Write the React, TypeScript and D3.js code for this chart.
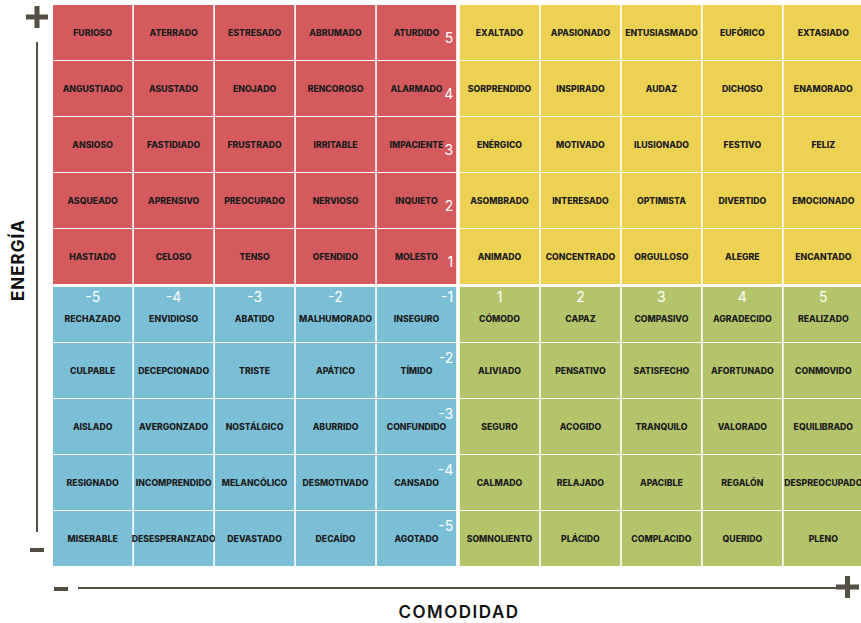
import React from 'react';
import * as d3 from 'd3';

// comfort (x) and energy (y) levels
const comfortLevels = [-5, -4, -3, -2, -1, 1, 2, 3, 4, 5];
const energyLevels = [5, 4, 3, 2, 1, -1, -2, -3, -4, -5];

// emotions, top row first, left to right
const redQuadrant = [
  ['FURIOSO', 'ATERRADO', 'ESTRESADO', 'ABRUMADO', 'ATURDIDO'],
  ['ANGUSTIADO', 'ASUSTADO', 'ENOJADO', 'RENCOROSO', 'ALARMADO'],
  ['ANSIOSO', 'FASTIDIADO', 'FRUSTRADO', 'IRRITABLE', 'IMPACIENTE'],
  ['ASQUEADO', 'APRENSIVO', 'PREOCUPADO', 'NERVIOSO', 'INQUIETO'],
  ['HASTIADO', 'CELOSO', 'TENSO', 'OFENDIDO', 'MOLESTO'],
];
const yellowQuadrant = [
  ['EXALTADO', 'APASIONADO', 'ENTUSIASMADO', 'EUFÓRICO', 'EXTASIADO'],
  ['SORPRENDIDO', 'INSPIRADO', 'AUDAZ', 'DICHOSO', 'ENAMORADO'],
  ['ENÉRGICO', 'MOTIVADO', 'ILUSIONADO', 'FESTIVO', 'FELIZ'],
  ['ASOMBRADO', 'INTERESADO', 'OPTIMISTA', 'DIVERTIDO', 'EMOCIONADO'],
  ['ANIMADO', 'CONCENTRADO', 'ORGULLOSO', 'ALEGRE', 'ENCANTADO'],
];
const blueQuadrant = [
  ['RECHAZADO', 'ENVIDIOSO', 'ABATIDO', 'MALHUMORADO', 'INSEGURO'],
  ['CULPABLE', 'DECEPCIONADO', 'TRISTE', 'APÁTICO', 'TÍMIDO'],
  ['AISLADO', 'AVERGONZADO', 'NOSTÁLGICO', 'ABURRIDO', 'CONFUNDIDO'],
  ['RESIGNADO', 'INCOMPRENDIDO', 'MELANCÓLICO', 'DESMOTIVADO', 'CANSADO'],
  ['MISERABLE', 'DESESPERANZADO', 'DEVASTADO', 'DECAÍDO', 'AGOTADO'],
];
const greenQuadrant = [
  ['CÓMODO', 'CAPAZ', 'COMPASIVO', 'AGRADECIDO', 'REALIZADO'],
  ['ALIVIADO', 'PENSATIVO', 'SATISFECHO', 'AFORTUNADO', 'CONMOVIDO'],
  ['SEGURO', 'ACOGIDO', 'TRANQUILO', 'VALORADO', 'EQUILIBRADO'],
  ['CALMADO', 'RELAJADO', 'APACIBLE', 'REGALÓN', 'DESPREOCUPADO'],
  ['SOMNOLIENTO', 'PLÁCIDO', 'COMPLACIDO', 'QUERIDO', 'PLENO'],
];

const width = 861;
const height = 623;
const font = 'Inter, "Open Sans", sans-serif';
const axisColor = '#544f43';

const quadColor = (e: number, c: number) =>
  e > 0 ? (c < 0 ? '#d45a5e' : '#ecd152') : c < 0 ? '#7bbfd6' : '#b4c46a';

const wordAt = (e: number, c: number) => {
  const row = e > 0 ? 5 - e : -e - 1;
  const col = c < 0 ? c + 5 : c - 1;
  const quad = e > 0 ? (c < 0 ? redQuadrant : yellowQuadrant) : c < 0 ? blueQuadrant : greenQuadrant;
  return quad[row][col];
};

export default function App() {
  const x = d3.scaleBand<number>().domain(comfortLevels).range([54, 862]).paddingInner(0.02);
  const y = d3.scaleBand<number>().domain(energyLevels).range([6, 565]).paddingInner(0.018);
  const bw = x.bandwidth();
  const bh = y.bandwidth();
  // extra gap between quadrants
  const shiftX = (c: number) => (c < 0 ? -1 : 1);
  const shiftY = (e: number) => (e > 0 ? -1 : 1);

  const cells = energyLevels.flatMap((e) => comfortLevels.map((c) => ({ e, c })));

  return (
    <svg width={width} height={height} style={{ position: 'absolute', left: 0, top: 0, background: '#fff' }}>
      {cells.map(({ e, c }) => {
        const x0 = (x(c) as number) + shiftX(c);
        const y0 = (y(e) as number) + shiftY(e);
        const cx = x0 + bw / 2;
        const cy = y0 + bh / 2 + (e === -1 ? 4 : 0);
        return (
          <g key={`${e}_${c}`}>
            <rect x={x0} y={y0} width={bw} height={bh} fill={quadColor(e, c)} />
            <text
              x={cx}
              y={cy}
              dy="0.35em"
              textAnchor="middle"
              fontFamily={font}
              fontWeight={800}
              fontSize={8.7}
              fill="#1c1c1c"
            >
              {wordAt(e, c)}
            </text>
          </g>
        );
      })}

      {/* energy numbers, red column */}
      {energyLevels.filter((e) => e > 0).map((e) => (
        <text
          key={`er${e}`}
          x={(x(-1) as number) - 1 + bw - 3}
          y={(y(e) as number) - 1 + bh / 2 + 11}
          textAnchor="end"
          fontFamily={font}
          fontSize={14}
          fill="#fff"
        >
          {e}
        </text>
      ))}
      {/* energy numbers, blue column */}
      {energyLevels.filter((e) => e < 0).map((e) => (
        <text
          key={`eb${e}`}
          x={(x(-1) as number) - 1 + bw - 3}
          y={(y(e) as number) + 1 + (e === -1 ? 15 : 20)}
          textAnchor="end"
          fontFamily={font}
          fontSize={14}
          fill="#fff"
        >
          {e}
        </text>
      ))}
      {/* comfort numbers */}
      {comfortLevels.filter((c) => c !== -1).map((c) => (
        <text
          key={`c${c}`}
          x={(x(c) as number) + shiftX(c) + bw / 2}
          y={(y(-1) as number) + 1 + 15}
          textAnchor="middle"
          fontFamily={font}
          fontSize={14}
          fill="#fff"
        >
          {c}
        </text>
      ))}

      {/* vertical axis */}
      <line x1={37} x2={37} y1={42} y2={532} stroke={axisColor} strokeWidth={2} />
      <path d="M26,17H48M37,6V28" stroke={axisColor} strokeWidth={5} />
      <path d="M30,550H44" stroke={axisColor} strokeWidth={4} />
      <text
        transform="translate(24,260) rotate(-90)"
        textAnchor="middle"
        fontFamily={font}
        fontWeight={700}
        fontSize={17}
        letterSpacing={1}
        fill="#111"
      >
        ENERGÍA
      </text>

      {/* horizontal axis */}
      <line x1={78} x2={836} y1={588} y2={588} stroke={axisColor} strokeWidth={2} />
      <path d="M54,589H68" stroke={axisColor} strokeWidth={4} />
      <path d="M836,587H859M847.5,576V598" stroke={axisColor} strokeWidth={5} />
      <text
        x={459}
        y={618}
        textAnchor="middle"
        fontFamily={font}
        fontWeight={600}
        fontSize={17}
        letterSpacing={1.5}
        fill="#111"
      >
        COMODIDAD
      </text>
    </svg>
  );
}
